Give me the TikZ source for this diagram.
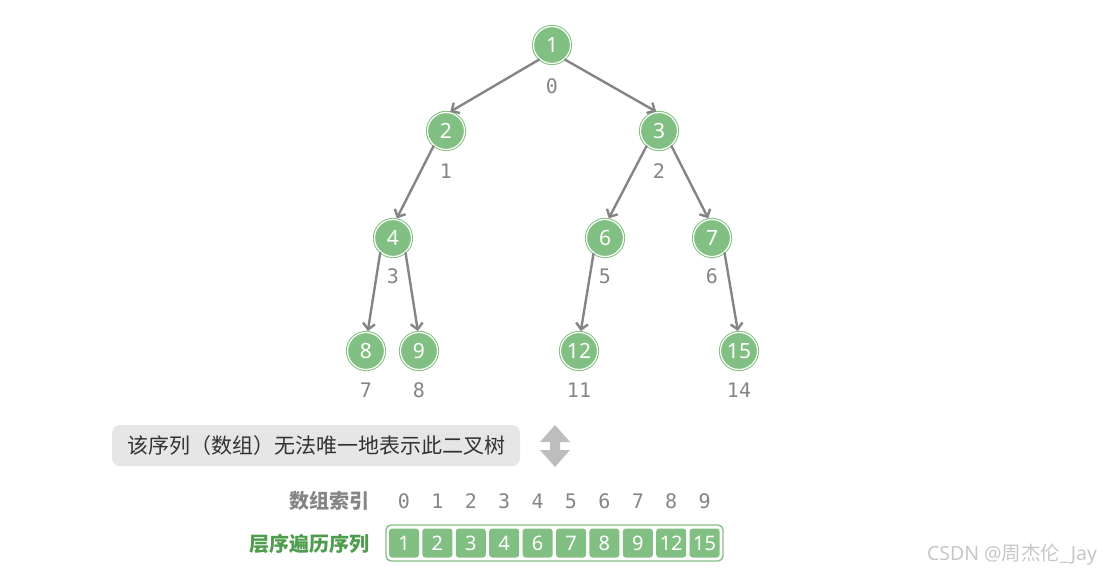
\documentclass[tikz,border=0pt]{standalone}
\usepackage{fontspec}
\setmainfont{Noto Sans}
\newfontfamily\cjk{Noto Sans CJK SC}
\newfontfamily\monof{DejaVu Sans Mono}
\usetikzlibrary{arrows.meta}
\definecolor{tgreen}{HTML}{82BF82}
\definecolor{dgreen}{HTML}{4E9C4E}
\definecolor{egray}{HTML}{858585}
\definecolor{boxgray}{HTML}{E6E6E6}
\definecolor{arrgray}{HTML}{BDBDBD}
\begin{document}
\begin{tikzpicture}[x=1pt,y=-1pt,
  nd/.style={circle, minimum size=37pt, inner sep=0pt, fill=tgreen, draw=tgreen, line width=1pt, double=white, double distance=1.2pt, text=white, font=\fontsize{21}{23}\selectfont\bfseries},
  idx/.style={text=egray, font=\monof\fontsize{20}{22}\selectfont},
  edge/.style={draw=egray, line width=2.4pt, -{Straight Barb[length=6pt,width=12pt]}, shorten >=1pt},
  cell/.style={minimum width=30pt, minimum height=29pt, inner sep=0pt, fill=tgreen, rounded corners=3pt, text=white, font=\fontsize{20}{22}\selectfont},
  lbl/.style={anchor=east, font=\cjk\bfseries\fontsize{20}{22}\selectfont}]
\useasboundingbox (0,0) rectangle (1111,575);
% tree nodes
\node[nd] (n1) at (552,45) {1};
\node[nd] (n2) at (446,131) {2};
\node[nd] (n3) at (659,131) {3};
\node[nd] (n4) at (393,238) {4};
\node[nd] (n6) at (605,238) {6};
\node[nd] (n7) at (712,238) {7};
\node[nd] (n8) at (366,351) {8};
\node[nd] (n9) at (419,351) {9};
\node[nd] (n12) at (579,351) {12};
\node[nd] (n15) at (739,351) {15};
% index labels
\node[idx] (i0) at (552,86) {0};
\node[idx] (i1) at (446,171) {1};
\node[idx] (i2) at (659,171) {2};
\node[idx] (i3) at (393,276) {3};
\node[idx] (i5) at (605,276) {5};
\node[idx] (i6) at (712,276) {6};
\node[idx] (i7) at (366,390) {7};
\node[idx] (i8) at (419,390) {8};
\node[idx] (i11) at (579,390) {11};
\node[idx] (i14) at (739,390) {14};
% edges
\draw[edge] (n1.229) -- (n2.80);
\draw[edge] (n1.311) -- (n3.96);
\draw[edge] (n2.230) -- (n4.80);
\draw[edge] (n3.230) -- (n6.80);
\draw[edge] (n3.310) -- (n7.100);
\draw[edge] (n4.228) -- (n8.85);
\draw[edge] (n4.311) -- (n9.93);
\draw[edge] (n6.233) -- (n12.85);
\draw[edge] (n7.311) -- (n15.93);
% note box
\node[fill=boxgray, rounded corners=8pt, minimum width=408pt, minimum height=41pt, inner sep=0pt, font=\cjk\fontsize{21}{23}\selectfont, text=black!80] (note) at (316,445.5) {该序列（数组）无法唯一地表示此二叉树};
% double arrow
\fill[arrgray] (555,425) -- (570,442) -- (560,442) -- (560,450) -- (570,450) -- (555,467) -- (540,450) -- (550,450) -- (550,442) -- (540,442) -- cycle;
% array
\node[lbl, text=egray] (tidx) at (373,501) {数组索引};
\node[lbl, text=dgreen] (tseq) at (373,544) {层序遍历序列};
\draw[tgreen, line width=1.4pt, rounded corners=5pt] (386,525) rectangle (723,561);
\foreach \v [count=\i from 0] in {1,2,3,4,6,7,8,9,12,15} {
  \node[idx] (a\i) at (404+33.4*\i,501) {\i};
  \node[cell] (c\i) at (404+33.4*\i,543) {\v};
}
% watermark
\node[text=black!22, font=\fontsize{19.5}{21}\selectfont] (wm) at (1012,555) {CSDN @{\cjk 周杰伦}\_Jay};
\end{tikzpicture}
\end{document}
